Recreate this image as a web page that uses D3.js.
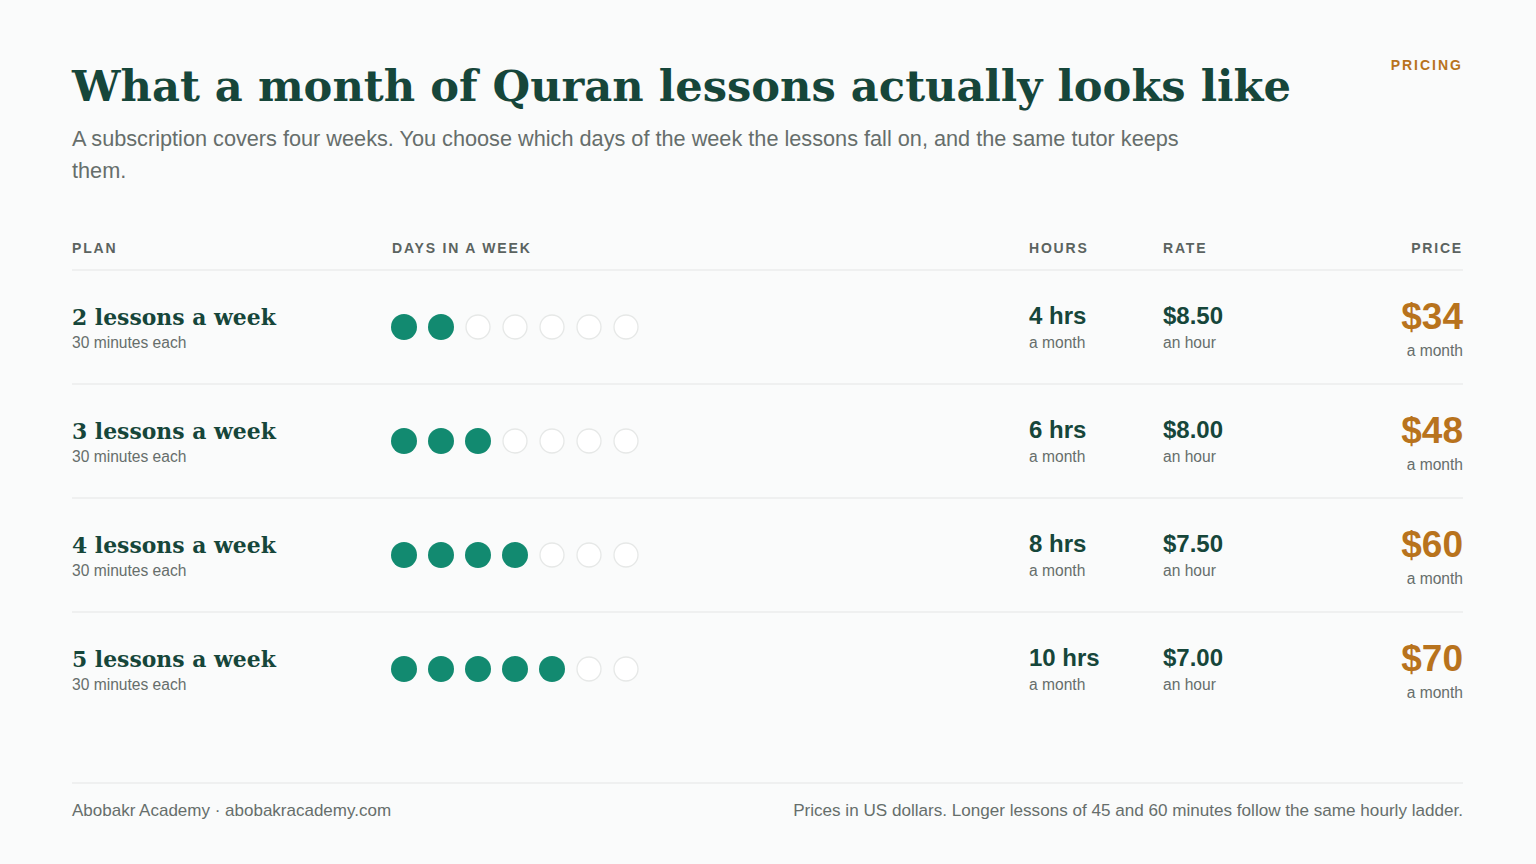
<!DOCTYPE html>
<html><head><meta charset="utf-8">
<script src="https://cdn.jsdelivr.net/npm/d3@7"></script>
<style>body{margin:0;background:#fafbfb}</style></head>
<body><svg id="c" width="1536" height="864"></svg>
<script>
const plans = ["2 lessons a week","3 lessons a week","4 lessons a week","5 lessons a week"];
const daysPerWeek = [2,3,4,5];
const hours = ["4 hrs","6 hrs","8 hrs","10 hrs"];
const rates = ["$8.50","$8.00","$7.50","$7.00"];
const prices = ["$34","$48","$60","$70"];
const headers = ["PLAN","DAYS IN A WEEK","HOURS","RATE","PRICE"];

const svg = d3.select("#c");
const sans = "'Liberation Sans', Arial, sans-serif";
const serif = "Georgia, 'DejaVu Serif', serif";
const dark = "#16463a", green = "#128a70", gold = "#b8731d", grey = "#666e6b";
svg.append("rect").attr("width",1536).attr("height",864).attr("fill","#fafbfb");

function fit(sel, w){ const cw = sel.node().getComputedTextLength(); const fs=+sel.attr("font-size"); sel.attr("font-size", fs*w/cw); }

const t = svg.append("text").attr("x",72).attr("y",101).attr("font-family",serif).attr("font-weight",700)
 .attr("font-size",48).attr("fill",dark).text("What a month of Quran lessons actually looks like");
fit(t,1219);
svg.append("text").attr("x",1463).attr("y",70).attr("text-anchor","end").attr("font-family",sans).attr("font-weight",700)
 .attr("font-size",14).attr("letter-spacing",2).attr("fill",gold).text("PRICING");
const subs=["A subscription covers four weeks. You choose which days of the week the lessons fall on, and the same tutor keeps","them."];
subs.forEach((s,i)=>svg.append("text").attr("x",72).attr("y",146+i*32).attr("font-family",sans).attr("font-size",21.7).attr("fill",grey).text(s));

const hx=[72,392,1029,1163,1463];
headers.forEach((h,i)=>svg.append("text").attr("x",hx[i]).attr("y",253).attr("text-anchor",i==4?"end":"start")
 .attr("font-family",sans).attr("font-weight",700).attr("font-size",14).attr("letter-spacing",1.8).attr("fill","#5b6360").text(h));

const y = d3.scaleBand().domain(d3.range(plans.length)).range([270,726]);
const dx = d3.scaleLinear().domain([0,6]).range([404,626]);
const line = (yy)=>svg.append("line").attr("x1",72).attr("x2",1463).attr("y1",yy).attr("y2",yy).attr("stroke","#e3e6e5").attr("stroke-width",1.2);
line(270);
plans.forEach((p,i)=>{
  const y0=y(i);
  if(i<plans.length-1) line(y0+y.bandwidth());
  const g=svg.append("g");
  fit(g.append("text").attr("x",72).attr("y",y0+55).attr("font-family",serif).attr("font-weight",700).attr("font-size",25).attr("fill",dark).text(p),204);
  g.append("text").attr("x",72).attr("y",y0+78).attr("font-family",sans).attr("font-size",15.6).attr("fill",grey).text("30 minutes each");
  g.selectAll("circle").data(d3.range(7)).join("circle").attr("cx",d=>dx(d)).attr("cy",y0+57).attr("r",d=>d<daysPerWeek[i]?13:12)
   .attr("fill",d=>d<daysPerWeek[i]?green:"#fff").attr("stroke",d=>d<daysPerWeek[i]?"none":"#e6e8e7").attr("stroke-width",1.3);
  [[1029,hours[i],"a month"],[1163,rates[i],"an hour"]].forEach(([x,a,b])=>{
    g.append("text").attr("x",x).attr("y",y0+54).attr("font-family",sans).attr("font-weight",700).attr("font-size",24).attr("fill",dark).text(a);
    g.append("text").attr("x",x).attr("y",y0+78).attr("font-family",sans).attr("font-size",15.6).attr("fill",grey).text(b);
  });
  g.append("text").attr("x",1463).attr("y",y0+59).attr("text-anchor","end").attr("font-family",sans).attr("font-weight",700).attr("font-size",37).attr("fill",gold).text(prices[i]);
  g.append("text").attr("x",1463).attr("y",y0+86).attr("text-anchor","end").attr("font-family",sans).attr("font-size",15.6).attr("fill",grey).text("a month");
});
svg.append("line").attr("x1",72).attr("x2",1463).attr("y1",783).attr("y2",783).attr("stroke","#e3e6e5").attr("stroke-width",1.2);
svg.append("text").attr("x",72).attr("y",816).attr("font-family",sans).attr("font-size",17).attr("fill",grey).text("Abobakr Academy · abobakracademy.com");
svg.append("text").attr("x",1463).attr("y",816).attr("text-anchor","end").attr("font-family",sans).attr("font-size",17.1).attr("fill",grey).text("Prices in US dollars. Longer lessons of 45 and 60 minutes follow the same hourly ladder.");
</script></body></html>
